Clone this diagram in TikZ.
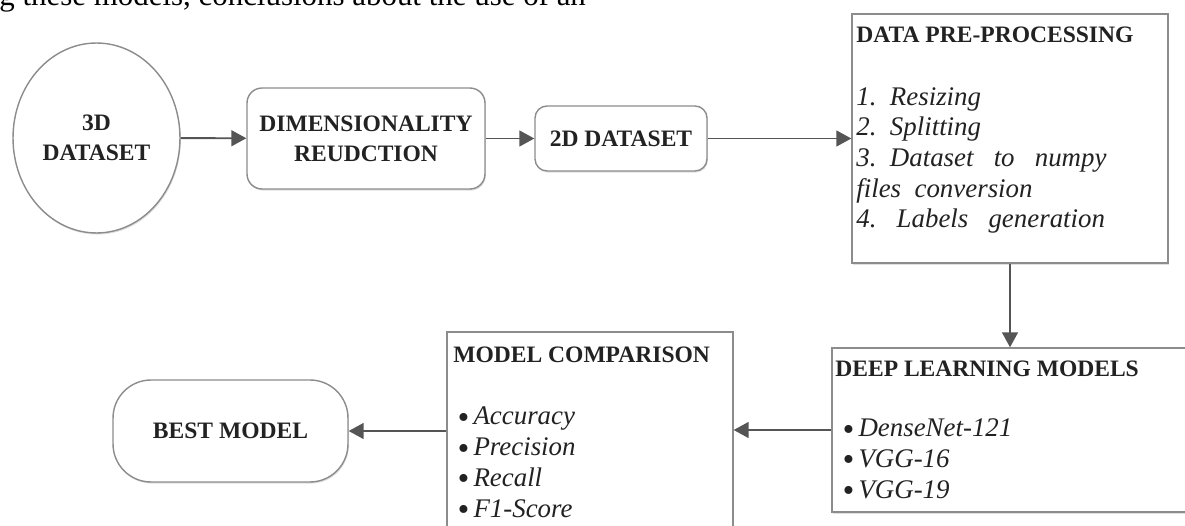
\documentclass[tikz,border=0pt]{standalone}
\usepackage{fontspec}
\setmainfont{Liberation Serif}
\usetikzlibrary{shapes.geometric, arrows.meta, shadows}
\usepackage{xcolor}
\definecolor{boxgray}{HTML}{8C8C8C}
\definecolor{arrgray}{HTML}{555555}
\definecolor{txtgray}{HTML}{222222}
\newcommand{\itm}{\smash{\raisebox{-2pt}{\fontsize{19}{17.5}\selectfont\textbullet}}\,}
\tikzset{
	blk/.style={
		draw=boxgray, fill=white, line width=0.8pt, text=txtgray, inner sep=0pt,
		align=center, font=\bfseries\fontsize{13.4}{17}\selectfont,
		drop shadow={shadow xshift=0.5pt, shadow yshift=-0.9pt, opacity=0.25}
	},
	head/.style={
		anchor=base west, inner sep=0pt, text=txtgray,
		font=\bfseries\fontsize{13.4}{17}\selectfont
	},
	items/.style={
		anchor=base west, inner sep=0pt, text=txtgray, align=left,
		font=\itshape\fontsize{15.3}{17.5}\selectfont
	},
	link/.style={
		draw=arrgray, line width=1.1pt, -{Triangle[length=8.5pt, width=9pt]}
	}
}

\begin{document}
\begin{tikzpicture}[x=0.02cm, y=-0.02cm]
\clip (0,0) rectangle (1185,526);
\node[anchor=base west, inner sep=0pt, font=\fontsize{17.6}{20}\selectfont] (t0) at (-1,6) {g these models, conclusions about the use of an};
\node[blk, ellipse, minimum width=3.34cm, minimum height=3.8cm] (v0) at (96.5,138) {3D\\DATASET};
\node[blk, rounded corners=0.3cm, minimum width=4.76cm, minimum height=2.02cm] (v1) at (366,138.5) {DIMENSIONALITY\\REUDCTION};
\node[blk, rounded corners=0.24cm, minimum width=3.44cm, minimum height=1.3cm] (v2) at (621,138.5) {2D DATASET};
\node[blk, minimum width=6.32cm, minimum height=4.98cm] (v3) at (1010,138.5) {};
\node[blk, minimum width=7.26cm, minimum height=3.28cm] (v4) at (1013.5,430) {};
\node[blk, minimum width=5.72cm, minimum height=4.26cm] (v5) at (590,438.5) {};
\node[blk, rounded corners=0.76cm, minimum width=4.7cm, minimum height=2.04cm] (v6) at (230.5,431) {BEST MODEL};
% box texts (lists are placed by the baseline of their last line)
\node[head] (t3) at (856,43) {DATA PRE-PROCESSING};
\node[items] (l3) at (856,228) {1.\ \ Resizing\\2.\ \ Splitting\\3.\ \ Dataset\ \ \ to\ \ \ numpy\\files\ \ conversion\\4.\ \ \ Labels\ \ \ generation};
\node[head] (t4) at (835,377) {DEEP LEARNING MODELS};
\node[items] (l4) at (842,498) {\itm DenseNet-121\\\itm VGG-16\\\itm VGG-19};
\node[head] (t5) at (453,362) {MODEL COMPARISON};
\node[items] (l5) at (457,517) {\itm Accuracy\\\itm Precision\\\itm Recall\\\itm F1-Score};
% arrows
\draw[link] (v0) -- (v1);
\draw[link] (v1) -- (v2);
\draw[link] (v2) -- (v3);
\draw[link] (v3.south) -- (v3.south |- v4.north);
\draw[link] (v4.west) -- (v4.west -| v5.east);
\draw[link] (v5.west |- v6) -- (v6);
\end{tikzpicture}
\end{document}
